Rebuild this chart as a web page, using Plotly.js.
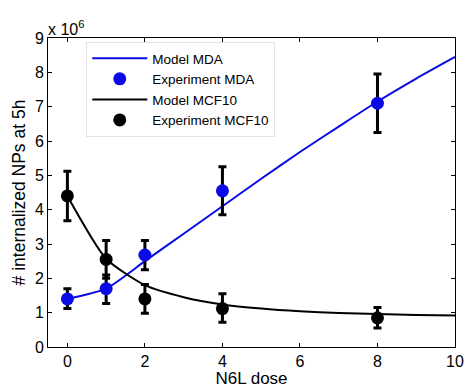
<!DOCTYPE html>
<html><head><meta charset="utf-8">
<script src="https://cdn.plot.ly/plotly-3.0.1.min.js"></script>
<style>body{margin:0;background:#fff}#c{width:467px;height:388px}</style>
</head><body><div id="c"></div>
<script>
var modelX = [0,1,2,3,4,5,6,7,8,9,10];
var modelMDA = [1.4,1.7,2.5,3.3,4.1,4.9,5.68,6.42,7.15,7.82,8.45];
var modelMCF10 = [4.4,2.57,1.8,1.45,1.24,1.12,1.04,0.99,0.96,0.93,0.92];
var expX = [0,1,2,4,8];
var expMDA = [1.4,1.7,2.68,4.55,7.1];
var expMDAErrUp = [0.3,0.4,0.42,0.7,0.85];
var expMDAErrDown = [0.28,0.43,0.43,0.7,0.85];
var expMCF10 = [4.4,2.55,1.4,1.12,0.85];
var expMCF10ErrUp = [0.72,0.55,0.42,0.43,0.3];
var expMCF10ErrDown = [0.72,0.55,0.42,0.4,0.3];

var blue = '#0a0ae6';
var traces = [
 {x:modelX, y:modelMDA, mode:'lines', name:'Model MDA', line:{color:blue,width:2,shape:'spline',smoothing:0.6}},
 {x:expX, y:expMDA, mode:'markers', name:'Experiment MDA',
  marker:{color:blue,size:13},
  error_y:{type:'data',array:expMDAErrUp,arrayminus:expMDAErrDown,color:'#000',thickness:3,width:4}},
 {x:modelX, y:modelMCF10, mode:'lines', name:'Model MCF10', line:{color:'#000',width:2,shape:'spline',smoothing:0.6}},
 {x:expX, y:expMCF10, mode:'markers', name:'Experiment MCF10',
  marker:{color:'#000',size:13},
  error_y:{type:'data',array:expMCF10ErrUp,arrayminus:expMCF10ErrDown,color:'#000',thickness:3,width:4}}
];
var fontFam = 'Liberation Sans, Arial, sans-serif';
var layout = {
 width:467, height:388,
 margin:{l:48,r:12,t:38,b:41},
 paper_bgcolor:'#fff', plot_bgcolor:'#fff',
 font:{family:fontFam,size:15,color:'#000'},
 showlegend:true,
 legend:{x:0.094,y:0.987,xanchor:'left',yanchor:'top',bgcolor:'#fff',bordercolor:'#e4e4e4',borderwidth:1,
  font:{size:13.5},tracegroupgap:0,itemwidth:55},
 xaxis:{range:[-0.5,10],tickvals:[0,2,4,6,8,10],ticks:'inside',ticklen:4,tickcolor:'#000',
  showline:true,linecolor:'#000',linewidth:1,mirror:'ticks',showgrid:false,zeroline:false,
  title:{text:'N6L dose',standoff:3,font:{size:17}},tickfont:{size:16}},
 yaxis:{range:[0,9],tickvals:[0,1,2,3,4,5,6,7,8,9],ticks:'inside',ticklen:4,tickcolor:'#000',
  showline:true,linecolor:'#000',linewidth:1,mirror:'ticks',showgrid:false,zeroline:false,
  title:{text:'# internalized NPs at 5h',standoff:4,font:{size:17.5}},tickfont:{size:16}},
 annotations:[{xref:'paper',yref:'paper',x:0,y:1,xanchor:'left',yanchor:'bottom',showarrow:false,
  text:'x 10<sup>6</sup>',font:{size:16},xshift:-2,yshift:-2}]
};
Plotly.newPlot('c',traces,layout,{displayModeBar:false});
</script></body></html>
